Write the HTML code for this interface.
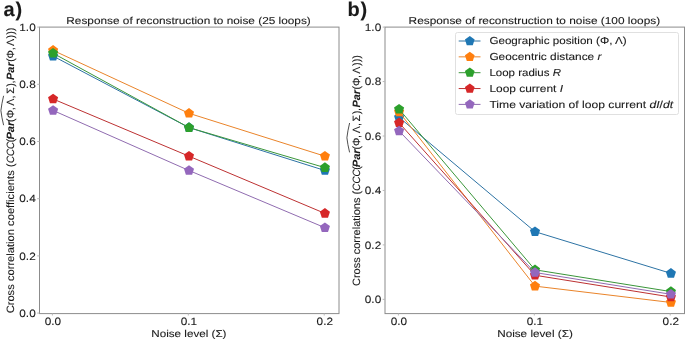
<!DOCTYPE html><html><head><meta charset="utf-8"><style>html,body{margin:0;padding:0;background:#fff;}svg{display:block;will-change:transform;filter:blur(0.3px);}text{font-family:"Liberation Sans", sans-serif;fill:#1a1a1a;text-rendering:geometricPrecision;stroke:#1a1a1a;stroke-width:0.1px;}</style></head><body>
<svg width="685" height="339" viewBox="0 0 685 339">
<rect width="685" height="339" fill="#fff"/>
<polyline points="53.09,56.10 189.00,127.60 324.91,170.50" fill="none" stroke="#2d73a4" stroke-width="1.0"/>
<polygon points="53.09,50.80 58.13,54.46 56.21,60.39 49.98,60.39 48.05,54.46" fill="#1f77b4"/>
<polygon points="189.00,122.30 194.04,125.96 192.12,131.89 185.88,131.89 183.96,125.96" fill="#1f77b4"/>
<polygon points="324.91,165.20 329.95,168.86 328.02,174.79 321.79,174.79 319.87,168.86" fill="#1f77b4"/>
<polyline points="53.09,50.38 189.00,113.30 324.91,156.20" fill="none" stroke="#ea842a" stroke-width="1.0"/>
<polygon points="53.09,45.08 58.13,48.74 56.21,54.67 49.98,54.67 48.05,48.74" fill="#ff7f0e"/>
<polygon points="189.00,108.00 194.04,111.66 192.12,117.59 185.88,117.59 183.96,111.66" fill="#ff7f0e"/>
<polygon points="324.91,150.90 329.95,154.56 328.02,160.49 321.79,160.49 319.87,154.56" fill="#ff7f0e"/>
<polyline points="53.09,53.24 189.00,127.60 324.91,167.64" fill="none" stroke="#3a963a" stroke-width="1.0"/>
<polygon points="53.09,47.94 58.13,51.60 56.21,57.53 49.98,57.53 48.05,51.60" fill="#2ca02c"/>
<polygon points="189.00,122.30 194.04,125.96 192.12,131.89 185.88,131.89 183.96,125.96" fill="#2ca02c"/>
<polygon points="324.91,162.34 329.95,166.00 328.02,171.93 321.79,171.93 319.87,166.00" fill="#2ca02c"/>
<polyline points="53.09,99.00 189.00,156.20 324.91,213.40" fill="none" stroke="#bd3132" stroke-width="1.0"/>
<polygon points="53.09,93.70 58.13,97.36 56.21,103.29 49.98,103.29 48.05,97.36" fill="#d62728"/>
<polygon points="189.00,150.90 194.04,154.56 192.12,160.49 185.88,160.49 183.96,154.56" fill="#d62728"/>
<polygon points="324.91,208.10 329.95,211.76 328.02,217.69 321.79,217.69 319.87,211.76" fill="#d62728"/>
<polyline points="53.09,110.44 189.00,170.50 324.91,227.70" fill="none" stroke="#906cb0" stroke-width="1.0"/>
<polygon points="53.09,105.14 58.13,108.80 56.21,114.73 49.98,114.73 48.05,108.80" fill="#9467bd"/>
<polygon points="189.00,165.20 194.04,168.86 192.12,174.79 185.88,174.79 183.96,168.86" fill="#9467bd"/>
<polygon points="324.91,222.40 329.95,226.06 328.02,231.99 321.79,231.99 319.87,226.06" fill="#9467bd"/>
<rect x="39.5" y="27.1" width="299.50" height="286.50" fill="none" stroke="#8c8c8c" stroke-width="1"/>
<line x1="52.39" y1="313.5" x2="52.39" y2="315.5" stroke="#b8b8b8" stroke-width="1"/>
<text x="52.99" y="324.8" font-size="10.6" text-anchor="middle" textLength="16.4" lengthAdjust="spacingAndGlyphs">0.0</text>
<line x1="188.30" y1="313.5" x2="188.30" y2="315.5" stroke="#b8b8b8" stroke-width="1"/>
<text x="188.90" y="324.8" font-size="10.6" text-anchor="middle" textLength="16.4" lengthAdjust="spacingAndGlyphs">0.1</text>
<line x1="324.21" y1="313.5" x2="324.21" y2="315.5" stroke="#b8b8b8" stroke-width="1"/>
<text x="324.81" y="324.8" font-size="10.6" text-anchor="middle" textLength="16.4" lengthAdjust="spacingAndGlyphs">0.2</text>
<line x1="37.2" y1="313.10" x2="39.5" y2="313.10" stroke="#b8b8b8" stroke-width="1"/>
<text x="35.70" y="316.80" font-size="10.6" text-anchor="end" textLength="16.4" lengthAdjust="spacingAndGlyphs">0.0</text>
<line x1="37.2" y1="255.90" x2="39.5" y2="255.90" stroke="#b8b8b8" stroke-width="1"/>
<text x="35.70" y="259.60" font-size="10.6" text-anchor="end" textLength="16.4" lengthAdjust="spacingAndGlyphs">0.2</text>
<line x1="37.2" y1="198.70" x2="39.5" y2="198.70" stroke="#b8b8b8" stroke-width="1"/>
<text x="35.70" y="202.40" font-size="10.6" text-anchor="end" textLength="16.4" lengthAdjust="spacingAndGlyphs">0.4</text>
<line x1="37.2" y1="141.50" x2="39.5" y2="141.50" stroke="#b8b8b8" stroke-width="1"/>
<text x="35.70" y="145.20" font-size="10.6" text-anchor="end" textLength="16.4" lengthAdjust="spacingAndGlyphs">0.6</text>
<line x1="37.2" y1="84.30" x2="39.5" y2="84.30" stroke="#b8b8b8" stroke-width="1"/>
<text x="35.70" y="88.00" font-size="10.6" text-anchor="end" textLength="16.4" lengthAdjust="spacingAndGlyphs">0.8</text>
<line x1="37.2" y1="27.10" x2="39.5" y2="27.10" stroke="#b8b8b8" stroke-width="1"/>
<text x="35.70" y="30.80" font-size="10.6" text-anchor="end" textLength="16.4" lengthAdjust="spacingAndGlyphs">1.0</text>
<polyline points="399.09,117.34 535.00,231.69 670.91,273.34" fill="none" stroke="#2d73a4" stroke-width="1.0"/>
<polygon points="399.09,112.04 404.13,115.71 402.21,121.63 395.98,121.63 394.05,115.71" fill="#1f77b4"/>
<polygon points="535.00,226.39 540.04,230.05 538.12,235.98 531.88,235.98 529.96,230.05" fill="#1f77b4"/>
<polygon points="670.91,268.04 675.95,271.71 674.02,277.63 667.79,277.63 665.87,271.71" fill="#1f77b4"/>
<polyline points="399.09,111.90 535.00,286.14 670.91,302.47" fill="none" stroke="#ea842a" stroke-width="1.0"/>
<polygon points="399.09,106.60 404.13,110.26 402.21,116.19 395.98,116.19 394.05,110.26" fill="#ff7f0e"/>
<polygon points="535.00,280.84 540.04,284.50 538.12,290.43 531.88,290.43 529.96,284.50" fill="#ff7f0e"/>
<polygon points="670.91,297.17 675.95,300.84 674.02,306.76 667.79,306.76 665.87,300.84" fill="#ff7f0e"/>
<polyline points="399.09,109.18 535.00,269.80 670.91,291.58" fill="none" stroke="#3a963a" stroke-width="1.0"/>
<polygon points="399.09,103.88 404.13,107.54 402.21,113.46 395.98,113.46 394.05,107.54" fill="#2ca02c"/>
<polygon points="535.00,264.50 540.04,268.17 538.12,274.09 531.88,274.09 529.96,268.17" fill="#2ca02c"/>
<polygon points="670.91,286.28 675.95,289.95 674.02,295.87 667.79,295.87 665.87,289.95" fill="#2ca02c"/>
<polyline points="399.09,122.79 535.00,275.25 670.91,297.03" fill="none" stroke="#bd3132" stroke-width="1.0"/>
<polygon points="399.09,117.49 404.13,121.15 402.21,127.08 395.98,127.08 394.05,121.15" fill="#d62728"/>
<polygon points="535.00,269.95 540.04,273.61 538.12,279.54 531.88,279.54 529.96,273.61" fill="#d62728"/>
<polygon points="670.91,291.73 675.95,295.39 674.02,301.32 667.79,301.32 665.87,295.39" fill="#d62728"/>
<polyline points="399.09,130.96 535.00,272.53 670.91,294.31" fill="none" stroke="#906cb0" stroke-width="1.0"/>
<polygon points="399.09,125.66 404.13,129.32 402.21,135.24 395.98,135.24 394.05,129.32" fill="#9467bd"/>
<polygon points="535.00,267.23 540.04,270.89 538.12,276.81 531.88,276.81 529.96,270.89" fill="#9467bd"/>
<polygon points="670.91,289.01 675.95,292.67 674.02,298.59 667.79,298.59 665.87,292.67" fill="#9467bd"/>
<rect x="385.0" y="27.1" width="299.50" height="286.50" fill="none" stroke="#8c8c8c" stroke-width="1"/>
<line x1="398.39" y1="313.5" x2="398.39" y2="315.5" stroke="#b8b8b8" stroke-width="1"/>
<text x="398.99" y="324.8" font-size="10.6" text-anchor="middle" textLength="16.4" lengthAdjust="spacingAndGlyphs">0.0</text>
<line x1="534.30" y1="313.5" x2="534.30" y2="315.5" stroke="#b8b8b8" stroke-width="1"/>
<text x="534.90" y="324.8" font-size="10.6" text-anchor="middle" textLength="16.4" lengthAdjust="spacingAndGlyphs">0.1</text>
<line x1="670.21" y1="313.5" x2="670.21" y2="315.5" stroke="#b8b8b8" stroke-width="1"/>
<text x="670.81" y="324.8" font-size="10.6" text-anchor="middle" textLength="16.4" lengthAdjust="spacingAndGlyphs">0.2</text>
<line x1="382.7" y1="299.35" x2="385.0" y2="299.35" stroke="#b8b8b8" stroke-width="1"/>
<text x="381.20" y="303.05" font-size="10.6" text-anchor="end" textLength="16.4" lengthAdjust="spacingAndGlyphs">0.0</text>
<line x1="382.7" y1="244.90" x2="385.0" y2="244.90" stroke="#b8b8b8" stroke-width="1"/>
<text x="381.20" y="248.60" font-size="10.6" text-anchor="end" textLength="16.4" lengthAdjust="spacingAndGlyphs">0.2</text>
<line x1="382.7" y1="190.45" x2="385.0" y2="190.45" stroke="#b8b8b8" stroke-width="1"/>
<text x="381.20" y="194.15" font-size="10.6" text-anchor="end" textLength="16.4" lengthAdjust="spacingAndGlyphs">0.4</text>
<line x1="382.7" y1="136.00" x2="385.0" y2="136.00" stroke="#b8b8b8" stroke-width="1"/>
<text x="381.20" y="139.70" font-size="10.6" text-anchor="end" textLength="16.4" lengthAdjust="spacingAndGlyphs">0.6</text>
<line x1="382.7" y1="81.55" x2="385.0" y2="81.55" stroke="#b8b8b8" stroke-width="1"/>
<text x="381.20" y="85.25" font-size="10.6" text-anchor="end" textLength="16.4" lengthAdjust="spacingAndGlyphs">0.8</text>
<line x1="382.7" y1="27.10" x2="385.0" y2="27.10" stroke="#b8b8b8" stroke-width="1"/>
<text x="381.20" y="30.80" font-size="10.6" text-anchor="end" textLength="16.4" lengthAdjust="spacingAndGlyphs">1.0</text>
<text x="66.3" y="24.4" font-size="10.0" textLength="244.5" lengthAdjust="spacingAndGlyphs">Response of reconstruction to noise (25 loops)</text>
<text x="408.6" y="24.4" font-size="10.0" textLength="251.5" lengthAdjust="spacingAndGlyphs">Response of reconstruction to noise (100 loops)</text>
<text x="151.3" y="336.6" font-size="10.0" textLength="75.2" lengthAdjust="spacingAndGlyphs">Noise level (Σ)</text>
<text x="497.2" y="336.6" font-size="10.0" textLength="75.6" lengthAdjust="spacingAndGlyphs">Noise level (Σ)</text>
<text x="3.4" y="15.9" font-size="20" font-weight="bold" fill="#000">a</text>
<text x="15.6" y="15.9" font-size="20" font-weight="bold" fill="#000">)</text>
<text x="347.6" y="15.9" font-size="20" font-weight="bold" fill="#000">b</text>
<text x="360.6" y="15.9" font-size="20" font-weight="bold" fill="#000">)</text>
<text transform="translate(14.20,313.37) rotate(-90) scale(1.0538,1)" font-size="10.6">Cross correlation coefficients (</text>
<text transform="translate(14.20,163.04) rotate(-90) scale(0.9226,1)" font-size="10.6" font-style="italic">CCC</text>
<text transform="translate(14.20,142.16) rotate(-90)" font-size="10.6">(</text>
<text transform="translate(14.20,139.60) rotate(-90) scale(1.0469,1)" font-size="10.6" font-style="italic" font-weight="bold" stroke="#1a1a1a" stroke-width="0.35">Par</text>
<text transform="translate(14.20,121.96) rotate(-90)" font-size="10.6">(</text>
<text transform="translate(14.20,118.28) rotate(-90)" font-size="10.6">Φ</text>
<text transform="translate(14.20,110.37) rotate(-90)" font-size="10.6">,</text>
<text transform="translate(14.20,105.74) rotate(-90)" font-size="10.6">Λ</text>
<text transform="translate(14.20,98.52) rotate(-90)" font-size="10.6">,</text>
<text transform="translate(14.20,93.80) rotate(-90)" font-size="10.6">Σ</text>
<text transform="translate(14.20,86.77) rotate(-90)" font-size="10.6">)</text>
<text transform="translate(14.20,83.42) rotate(-90)" font-size="10.6">,</text>
<text transform="translate(14.20,79.99) rotate(-90) scale(1.0353,1)" font-size="10.6" font-style="italic" font-weight="bold" stroke="#1a1a1a" stroke-width="0.35">Par</text>
<text transform="translate(14.20,61.86) rotate(-90)" font-size="10.6">(</text>
<text transform="translate(14.20,58.43) rotate(-90)" font-size="10.6">Φ</text>
<text transform="translate(14.20,50.37) rotate(-90)" font-size="10.6">,</text>
<text transform="translate(14.20,46.04) rotate(-90)" font-size="10.6">Λ</text>
<text transform="translate(14.20,38.52) rotate(-90)" font-size="10.6">)</text>
<text transform="translate(14.20,34.77) rotate(-90)" font-size="10.6">)</text>
<text transform="translate(14.20,31.22) rotate(-90)" font-size="10.6">)</text>
<text transform="translate(360.40,285.96) rotate(-90) scale(1.0352,1)" font-size="10.6">Cross correlations (</text>
<text transform="translate(360.40,190.64) rotate(-90) scale(0.9226,1)" font-size="10.6" font-style="italic">CCC</text>
<text transform="translate(360.40,169.76) rotate(-90)" font-size="10.6">(</text>
<text transform="translate(360.40,167.20) rotate(-90) scale(1.0469,1)" font-size="10.6" font-style="italic" font-weight="bold" stroke="#1a1a1a" stroke-width="0.35">Par</text>
<text transform="translate(360.40,149.56) rotate(-90)" font-size="10.6">(</text>
<text transform="translate(360.40,145.88) rotate(-90)" font-size="10.6">Φ</text>
<text transform="translate(360.40,137.97) rotate(-90)" font-size="10.6">,</text>
<text transform="translate(360.40,133.34) rotate(-90)" font-size="10.6">Λ</text>
<text transform="translate(360.40,126.12) rotate(-90)" font-size="10.6">,</text>
<text transform="translate(360.40,121.40) rotate(-90)" font-size="10.6">Σ</text>
<text transform="translate(360.40,114.37) rotate(-90)" font-size="10.6">)</text>
<text transform="translate(360.40,111.02) rotate(-90)" font-size="10.6">,</text>
<text transform="translate(360.40,107.59) rotate(-90) scale(1.0353,1)" font-size="10.6" font-style="italic" font-weight="bold" stroke="#1a1a1a" stroke-width="0.35">Par</text>
<text transform="translate(360.40,89.46) rotate(-90)" font-size="10.6">(</text>
<text transform="translate(360.40,86.03) rotate(-90)" font-size="10.6">Φ</text>
<text transform="translate(360.40,77.97) rotate(-90)" font-size="10.6">,</text>
<text transform="translate(360.40,73.64) rotate(-90)" font-size="10.6">Λ</text>
<text transform="translate(360.40,66.12) rotate(-90)" font-size="10.6">)</text>
<text transform="translate(360.40,62.37) rotate(-90)" font-size="10.6">)</text>
<text transform="translate(360.40,58.82) rotate(-90)" font-size="10.6">)</text>
<path d="M3.6,125.2 Q1.6,117 0.9,110.6 Q1.6,104 3.6,95.8" fill="none" stroke="#222" stroke-width="0.8"/>
<path d="M349.6,152.4 Q347.6,144.2 346.9,137.79999999999998 Q347.6,131.2 349.6,123.0" fill="none" stroke="#222" stroke-width="0.8"/>
<rect x="455.5" y="32.5" width="223" height="82" rx="2" fill="#fff" fill-opacity="0.8" stroke="#e0e0e0" stroke-width="1"/>
<line x1="458.7" y1="41.00" x2="480.5" y2="41.00" stroke="#2d73a4" stroke-width="1.0"/>
<polygon points="469.80,35.90 474.65,39.42 472.80,45.13 466.80,45.13 464.95,39.42" fill="#1f77b4"/>
<text x="489.4" y="44.40" font-size="10.2" textLength="137.3" lengthAdjust="spacingAndGlyphs">Geographic position (Φ, Λ)</text>
<line x1="458.7" y1="56.85" x2="480.5" y2="56.85" stroke="#ea842a" stroke-width="1.0"/>
<polygon points="469.80,51.75 474.65,55.27 472.80,60.98 466.80,60.98 464.95,55.27" fill="#ff7f0e"/>
<text x="489.4" y="60.25" font-size="10.2" textLength="112.1" lengthAdjust="spacingAndGlyphs">Geocentric distance <tspan font-style="italic">r</tspan></text>
<line x1="458.7" y1="72.70" x2="480.5" y2="72.70" stroke="#3a963a" stroke-width="1.0"/>
<polygon points="469.80,67.60 474.65,71.12 472.80,76.83 466.80,76.83 464.95,71.12" fill="#2ca02c"/>
<text x="489.4" y="76.10" font-size="10.2" textLength="71.6" lengthAdjust="spacingAndGlyphs">Loop radius <tspan font-style="italic">R</tspan></text>
<line x1="458.7" y1="88.55" x2="480.5" y2="88.55" stroke="#bd3132" stroke-width="1.0"/>
<polygon points="469.80,83.45 474.65,86.97 472.80,92.68 466.80,92.68 464.95,86.97" fill="#d62728"/>
<text x="489.4" y="91.95" font-size="10.2" textLength="73.6" lengthAdjust="spacingAndGlyphs">Loop current <tspan font-style="italic">I</tspan></text>
<line x1="458.7" y1="104.40" x2="480.5" y2="104.40" stroke="#906cb0" stroke-width="1.0"/>
<polygon points="469.80,99.30 474.65,102.82 472.80,108.53 466.80,108.53 464.95,102.82" fill="#9467bd"/>
<text x="489.4" y="107.80" font-size="10.2" textLength="183.7" lengthAdjust="spacingAndGlyphs">Time variation of loop current <tspan font-style="italic">dI</tspan>/<tspan font-style="italic">dt</tspan></text>
</svg></body></html>
